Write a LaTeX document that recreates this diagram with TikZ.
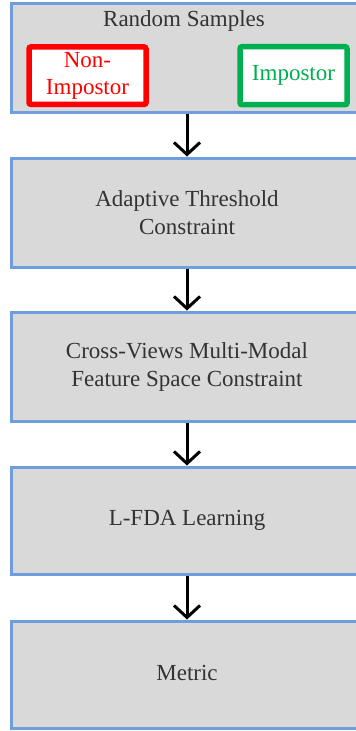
\documentclass[tikz,border=0pt]{standalone}
\usepackage{fontspec}
\setmainfont{Liberation Serif}
\usetikzlibrary{arrows.meta}
\definecolor{boxblue}{HTML}{6F9EDE}
\definecolor{boxgray}{HTML}{D9D9D9}
\definecolor{txtgray}{HTML}{333333}
\definecolor{impred}{HTML}{FF0000}
\definecolor{impgreen}{HTML}{00B050}
\tikzset{
  stage/.style={draw=boxblue, fill=boxgray, line width=3pt, minimum width=352pt,
    minimum height=107pt, inner sep=0pt, text=txtgray, align=center,
    font=\fontsize{23}{28}\selectfont},
  sample/.style={fill=white, line width=5.5pt, rounded corners=2pt, inner sep=0pt,
    align=center, font=\fontsize{23}{27}\selectfont},
  flow/.style={draw=black, line width=3pt, -{Straight Barb[length=12pt,width=26pt,line width=3pt]}},
}
\begin{document}
\begin{tikzpicture}[x=1pt,y=-1pt]
\useasboundingbox (0,0) rectangle (356,731);
\clip (0,0) rectangle (356,731);
\node[stage, minimum height=109pt] (b1) at (187,57.5) {};
\node[anchor=base, text=txtgray, font=\fontsize{23}{28}\selectfont] (title) at (184,26) {Random Samples};
\node[sample, draw=impred, text=impred, minimum width=117pt, minimum height=57.5pt] (non) at (87.5,75.7) {Non-\\Impostor};
\node[sample, draw=impgreen, text=impgreen, minimum width=107pt, minimum height=58pt] (imp) at (293.5,75.7) {Impostor};
\node[stage, minimum height=109pt] (b2) at (187,212.5) {Adaptive Threshold\\Constraint};
\node[stage, minimum height=109pt] (b3) at (187,366.5) {Cross-Views Multi-Modal\\Feature Space Constraint};
\node[stage] (b4) at (187,520.5) {L-FDA Learning};
\node[stage] (b5) at (187,674.5) {\raisebox{4pt}{Metric}};
\draw[flow] (b1.south) -- (b2.north);
\draw[flow] (b2.south) -- (b3.north);
\draw[flow] (b3.south) -- (b4.north);
\draw[flow] (b4.south) -- (b5.north);
\end{tikzpicture}
\end{document}
